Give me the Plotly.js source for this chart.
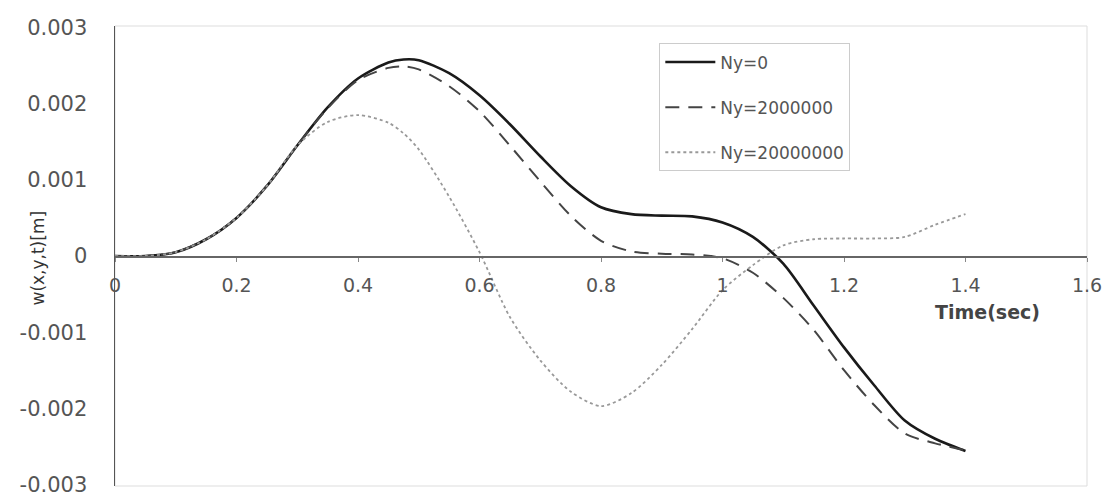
<!DOCTYPE html>
<html>
<head>
<meta charset="utf-8">
<script src="https://cdn.plot.ly/plotly-3.0.1.min.js"></script>
<style>html,body{margin:0;padding:0;background:#fff;}#chart{width:1106px;height:499px;}</style>
</head>
<body>
<div id="chart"></div>
<script>
// time (sec)
var time = [0, 0.05, 0.1, 0.15, 0.2, 0.25, 0.3, 0.35, 0.4, 0.45, 0.475, 0.5, 0.55, 0.6, 0.65, 0.7, 0.75, 0.8, 0.85, 0.9, 0.95, 1.0, 1.05, 1.1, 1.15, 1.2, 1.25, 1.3, 1.35, 1.4];
// w(x,y,t) [m]
var ny0 = [0, 0, 0.00005, 0.00022, 0.0005, 0.00092, 0.00145, 0.00195, 0.00233, 0.00254, 0.00258, 0.00257, 0.0024, 0.00211, 0.00173, 0.00131, 0.00092, 0.00064, 0.00055, 0.00053, 0.00052, 0.00044, 0.00025, -0.0001, -0.00065, -0.0012, -0.0017, -0.00216, -0.0024, -0.00256];
var ny2e6 = [0, 0, 0.00005, 0.00022, 0.0005, 0.00092, 0.00145, 0.00194, 0.00231, 0.00247, 0.00249, 0.00245, 0.00223, 0.0019, 0.00145, 0.00098, 0.00053, 0.0002, 0.00006, 0.00003, 0.00002, -0.00003, -0.00022, -0.00055, -0.00097, -0.0015, -0.00196, -0.00233, -0.00246, -0.00255];
var ny2e7 = [0, 0, 0.00005, 0.00022, 0.0005, 0.00092, 0.00145, 0.00176, 0.00185, 0.00175, 0.00161, 0.0014, 0.00078, 0.00005, -0.0008, -0.00137, -0.00178, -0.00197, -0.0018, -0.00143, -0.00096, -0.00045, -0.00012, 0.00014, 0.00022, 0.00023, 0.00023, 0.00025, 0.00041, 0.00055];
var seriesNames = ['Ny=0', 'Ny=2000000', 'Ny=20000000'];
var xTicks = [0, 0.2, 0.4, 0.6, 0.8, 1, 1.2, 1.4, 1.6];
var xTickText = ['0', '0.2', '0.4', '0.6', '0.8', '1', '1.2', '1.4', '1.6'];
var yTicks = [-0.003, -0.002, -0.001, 0, 0.001, 0.002, 0.003];
var yTickText = ['-0.003', '-0.002', '-0.001', '0', '0.001', '0.002', '0.003'];

var traces = [
  {x: time, y: ny0, name: seriesNames[0], mode: 'lines', legendgroup: 'a',
   line: {color: '#1a1a1a', width: 2.6, dash: 'solid', shape: 'spline', smoothing: 0.8}},
  {x: time, y: ny2e6, name: seriesNames[1], mode: 'lines', legendgroup: 'b',
   line: {color: '#444444', width: 2, dash: '14px,9px', shape: 'spline', smoothing: 0.8}},
  {x: time, y: ny2e7, name: seriesNames[2], mode: 'lines', legendgroup: 'c',
   line: {color: '#999999', width: 1.8, dash: 'dot', shape: 'spline', smoothing: 0.8}}
];

var tickFont = {family: 'DejaVu Sans', size: 21, color: '#555'};

var layout = {
  width: 1106, height: 499,
  margin: {l: 115, r: 19, t: 26, b: 13},
  paper_bgcolor: '#fff', plot_bgcolor: '#fff',
  showlegend: true,
  xaxis: {
    range: [0, 1.6], tickvals: xTicks, ticktext: xTickText,
    showgrid: false, zeroline: false, showline: true, linecolor: '#666', linewidth: 1.5,
    anchor: 'free', position: 0.5, ticks: 'outside', ticklen: 4, tickcolor: '#888',
    ticklabelstandoff: 8, ticklabeloverflow: 'allow',
    tickfont: {family: 'DejaVu Sans', size: 19, color: '#555'}
  },
  yaxis: {
    range: [-0.00302, 0.00302], tickvals: yTicks, ticktext: yTickText,
    showgrid: false, zeroline: false, showline: true, linecolor: '#555', linewidth: 1.5,
    ticks: '', ticklabelstandoff: 22, ticklabeloverflow: 'allow', tickfont: tickFont
  },
  shapes: [
    {type: 'rect', xref: 'paper', yref: 'paper', x0: 0, x1: 1, y0: 0, y1: 1,
     line: {color: '#dddddd', width: 1}, layer: 'below'}
  ],
  legend: {
    x: 0.56, y: 0.962, xanchor: 'left', yanchor: 'top',
    bgcolor: '#fff', bordercolor: '#cccccc', borderwidth: 1,
    font: {family: 'DejaVu Sans', size: 17, color: '#555'},
    traceorder: 'grouped', tracegroupgap: 20, itemwidth: 50
  },
  annotations: [
    {text: 'w(x,y,t)[m]', xref: 'paper', yref: 'paper', x: -0.079, y: 0.495,
     xanchor: 'center', yanchor: 'middle', textangle: -90, showarrow: false,
     font: {family: 'DejaVu Sans', size: 17, color: '#333'}},
    {text: '<b>Time(sec)</b>', xref: 'paper', yref: 'paper', x: 0.898, y: 0.378,
     xanchor: 'center', yanchor: 'middle', showarrow: false,
     font: {family: 'DejaVu Sans', size: 19, color: '#444'}}
  ]
};

Plotly.newPlot('chart', traces, layout, {displayModeBar: false, staticPlot: true});
</script>
</body>
</html>
